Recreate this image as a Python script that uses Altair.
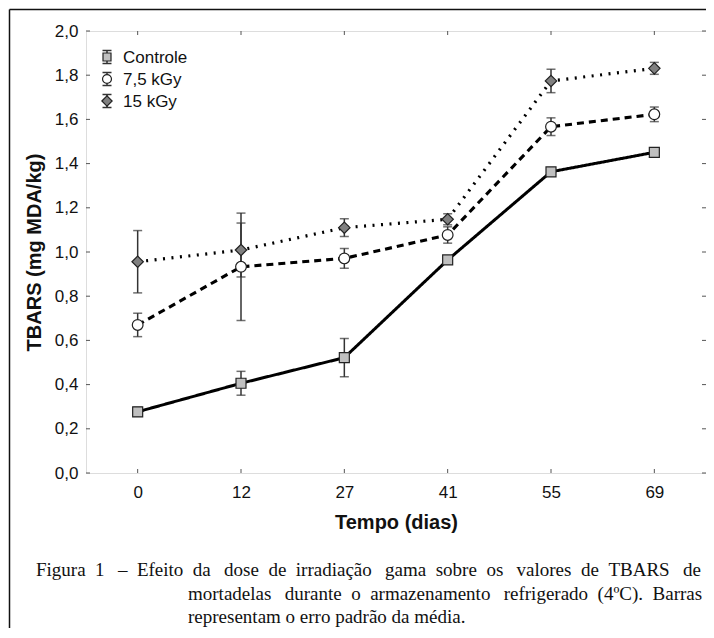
import altair as alt
import pandas as pd

# ---------------- data ----------------
days = ["0", "12", "27", "41", "55", "69"]
series_names = ["Controle", "7,5 kGy", "15 kGy"]

controle = [0.277, 0.406, 0.522, 0.964, 1.363, 1.451]
controle_err = [0.020, 0.054, 0.087, 0.012, 0.010, 0.010]
kgy75 = [0.670, 0.933, 0.971, 1.077, 1.567, 1.623]
kgy75_err = [0.053, 0.243, 0.045, 0.037, 0.040, 0.033]
kgy15 = [0.956, 1.009, 1.110, 1.148, 1.774, 1.831]
kgy15_err = [0.141, 0.122, 0.040, 0.025, 0.053, 0.027]

y_ticks = [0.0, 0.2, 0.4, 0.6, 0.8, 1.0, 1.2, 1.4, 1.6, 1.8, 2.0]

NB = "\u00a0"
TH = "\u2009"
caption_words = [
    "Figura 1 \u2013 Efeito da dose de irradia\u00e7\u00e3o gama sobre os valores de TBARS de".split(" "),
    "mortadelas durante o armazenamento refrigerado (4\u00baC). Barras".split(" "),
    "representam o erro padr\u00e3o da m\u00e9dia.".split(" "),
]


def justify(words, extra_every):
    out = words[0]
    for i, w in enumerate(words[1:]):
        gap = " " + NB + (TH if (i % 3) in extra_every else "")
        out += gap + w
    return out


caption_lines = [
    justify(caption_words[0], (1,)),
    justify(caption_words[1], (0,)),
    " ".join(caption_words[2]),
]

fills = ["#c0c0c0", "#ffffff", "#808080"]
shapes = ["square", "circle", "diamond"]
sizes = [100, 130, 170]
legend_sizes = [64, 80, 105]
dashes = [[1, 0], [7, 5], [2, 6.5]]
widths = [3, 3.2, 3]

rows = []
for name, vals, errs in zip(series_names, [controle, kgy75, kgy15],
                            [controle_err, kgy75_err, kgy15_err]):
    for d, v, e in zip(days, vals, errs):
        rows.append({"day": d, "series": name, "value": v, "lo": v - e, "hi": v + e})
df = pd.DataFrame(rows)

W, H = 620, 442
FONT = "Liberation Sans"
SERIF = "Liberation Serif"
INK = "#222222"

x_axis = alt.Axis(title="Tempo (dias)", labelAngle=0, ticks=False, domain=False,
                  labelFontSize=17, labelPadding=11, titleFontSize=20,
                  titleFontWeight="bold", titlePadding=12, labelColor="#111",
                  titleColor="#111")
y_axis = alt.Axis(title="TBARS (mg MDA/kg)", values=y_ticks, ticks=False, domain=False,
                  grid=False, labelExpr="replace(format(datum.value, '.1f'), '.', ',')",
                  labelFontSize=17, labelPadding=8, titleFontSize=20,
                  titleFontWeight="bold", titlePadding=10, labelColor="#111",
                  titleColor="#111")

x_enc = alt.X("day:O", sort=days, scale=alt.Scale(type="point", padding=0.5), axis=x_axis)
y_scale = alt.Scale(domain=[0, 2], nice=False, zero=False)

base = alt.Chart(df)

lines = base.mark_line(color="black").encode(
    x=x_enc,
    y=alt.Y("value:Q", scale=y_scale, axis=y_axis),
    strokeDash=alt.StrokeDash("series:N", scale=alt.Scale(domain=series_names, range=dashes), legend=None),
    strokeWidth=alt.StrokeWidth("series:N", scale=alt.Scale(domain=series_names, range=widths), legend=None),
    detail="series:N",
)

err_rule = base.mark_rule(color="#333", strokeWidth=1.5).encode(
    x=x_enc,
    y=alt.Y("lo:Q", scale=y_scale, axis=y_axis),
    y2="hi:Q",
)
cap_lo = base.mark_tick(color="#333", thickness=1.5, size=9, orient="horizontal").encode(
    x=x_enc, y=alt.Y("lo:Q", scale=y_scale, axis=y_axis))
cap_hi = base.mark_tick(color="#333", thickness=1.5, size=9, orient="horizontal").encode(
    x=x_enc, y=alt.Y("hi:Q", scale=y_scale, axis=y_axis))

points = base.mark_point(filled=True, stroke=INK, strokeWidth=1.2, opacity=1).encode(
    x=x_enc,
    y=alt.Y("value:Q", scale=y_scale, axis=y_axis),
    shape=alt.Shape("series:N", scale=alt.Scale(domain=series_names, range=shapes), legend=None),
    fill=alt.Fill("series:N", scale=alt.Scale(domain=series_names, range=fills), legend=None),
    size=alt.Size("series:N", scale=alt.Scale(domain=series_names, range=sizes), legend=None),
)

# inner ticks on all four sides of the frame
tick_days = pd.DataFrame({"day": days})
tick_vals = pd.DataFrame({"val": y_ticks})
tick_col = "#555"
bottom_ticks = alt.Chart(tick_days).mark_rule(color=tick_col, strokeWidth=1).encode(
    x=x_enc, y=alt.value(H), y2=alt.value(H - 4))
top_ticks = alt.Chart(tick_days).mark_rule(color=tick_col, strokeWidth=1).encode(
    x=x_enc, y=alt.value(0), y2=alt.value(4))
left_ticks = alt.Chart(tick_vals).mark_rule(color=tick_col, strokeWidth=1).encode(
    y=alt.Y("val:Q", scale=y_scale, axis=y_axis), x=alt.value(0), x2=alt.value(4))
right_ticks = alt.Chart(tick_vals).mark_rule(color=tick_col, strokeWidth=1).encode(
    y=alt.Y("val:Q", scale=y_scale, axis=y_axis), x=alt.value(W), x2=alt.value(W - 4))

one = pd.DataFrame({"k": [0]})
frame_left = alt.Chart(one).mark_rule(color="#111", strokeWidth=1.5).encode(
    x=alt.value(-76.5), y=alt.value(-21.5), y2=alt.value(700))
frame_top = alt.Chart(one).mark_rule(color="#111", strokeWidth=1.5).encode(
    x=alt.value(-76.5), x2=alt.value(760), y=alt.value(-21.5))

# manual legend (error-bar glyph + marker + label) in the top-left corner
LX, LY0, LSTEP, LLABEL = 21, 26, 22, 37
legend_layers = []
for i, name in enumerate(series_names):
    yc = LY0 + i * LSTEP
    legend_layers += [
        alt.Chart(one).mark_rule(color="#333", strokeWidth=1.5).encode(
            x=alt.value(LX), y=alt.value(yc - 6.5), y2=alt.value(yc + 6.5)),
        alt.Chart(one).mark_rule(color="#333", strokeWidth=1.5).encode(
            x=alt.value(LX - 4.5), x2=alt.value(LX + 4.5), y=alt.value(yc - 6.5)),
        alt.Chart(one).mark_rule(color="#333", strokeWidth=1.5).encode(
            x=alt.value(LX - 4.5), x2=alt.value(LX + 4.5), y=alt.value(yc + 6.5)),
        alt.Chart(one).mark_point(filled=True, shape=shapes[i], fill=fills[i], stroke=INK,
                                  strokeWidth=1.2, opacity=1, size=legend_sizes[i]).encode(
            x=alt.value(LX), y=alt.value(yc)),
        alt.Chart(one).mark_text(align="left", baseline="middle", font=FONT, fontSize=17,
                                 color="#111").encode(
            x=alt.value(LLABEL), y=alt.value(yc + 1), text=alt.value(name)),
    ]

cap_pos = [(-50, 545), (102, 569), (102, 592)]
captions = [
    alt.Chart(one).mark_text(align="left", baseline="alphabetic", font=SERIF,
                             fontSize=19, color="#111").encode(
        x=alt.value(px), y=alt.value(py), text=alt.value(t))
    for t, (px, py) in zip(caption_lines, cap_pos)
]

chart = alt.layer(
    frame_left, frame_top,
    bottom_ticks, top_ticks, left_ticks, right_ticks,
    lines, err_rule, cap_lo, cap_hi, points,
    *legend_layers,
    *captions,
).properties(
    width=W, height=H,
    autosize=alt.AutoSizeParams(type="none"),
    padding={"left": 78, "top": 23, "right": 0, "bottom": 155},
).configure_view(
    stroke=INK, strokeWidth=1.2
).configure_axis(
    labelFont=FONT, titleFont=FONT
).configure(
    background="white"
)

chart.save("out.html", embed_options={"renderer": "svg", "actions": False})
